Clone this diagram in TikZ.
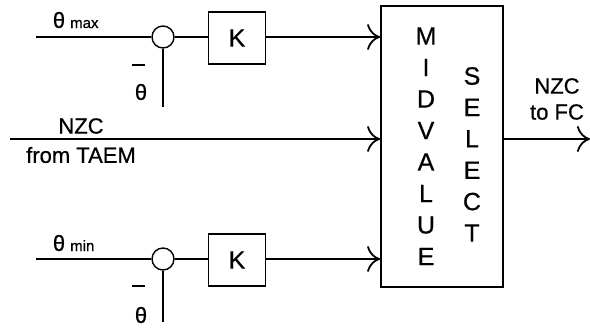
\documentclass[tikz,border=0pt]{standalone}
\usepackage{fontspec}
\setmainfont{Liberation Sans}[FakeBold=0.6]
\usetikzlibrary{arrows.meta}
\begin{document}
\begin{tikzpicture}[x=1pt,y=-1pt,
  ln/.style={line width=1.4pt},
  arr/.style={line width=1.4pt,-{Computer Modern Rightarrow[length=13pt,width=26pt,line width=1.8pt]}},
  kbox/.style={draw,line width=1.5pt,minimum width=57pt,minimum height=52pt,inner sep=0pt,font=\fontsize{25}{25}\selectfont},
  sumc/.style={draw,circle,line width=1.4pt,minimum size=22pt,inner sep=0pt},
  lbl/.style={inner sep=0pt,font=\fontsize{22}{22}\selectfont},
  sml/.style={inner sep=0pt,font=\fontsize{15}{15}\selectfont},
  th/.style={inner sep=0pt,font=\fontsize{22}{22}\selectfont},
  big/.style={inner sep=0pt,font=\fontsize{25}{25}\selectfont}]
\useasboundingbox (0,0) rectangle (590,333);
% main box
\node[draw,line width=1.7pt,minimum width=122pt,minimum height=281pt,inner sep=0pt] (mv) at (442,146.5) {};
% letters
\foreach \c [count=\i from 0] in {M,I,D,V,A,L,U,E}
  \node[big] (m\i) at (426,36+31.5*\i) {\c};
\foreach \c [count=\i from 0] in {S,E,L,E,C,T}
  \node[big] (s\i) at (472,76+31.4*\i) {\c};
% top branch
\coordinate (t0) at (36,37);
\node[sumc] (c1) at (163,37) {};
\node[kbox] (k1) at (237,38) {K};
\coordinate (v1) at (163,107);
\draw[ln] (t0) -- (c1.west);
\draw[ln] (c1.east) -- (k1.west |- c1.east);
\draw[line width=1.8pt] (c1.south) -- (v1);
\draw[arr] (k1.east |- c1.east) -- (c1.east -| mv.west);
\node[th] (thmax) at (59,20) {θ};
\node[sml,anchor=base west] (max) at (70,28) {max};
\draw[line width=1.5pt] (132,65) coordinate (b1a) -- (145,65) coordinate (b1b);
\node[th] (thb1) at (141,92) {θ};
% middle
\coordinate (n0) at (10,139);
\draw[arr] (n0) -- (n0 -| mv.west);
\node[lbl] (nzc1) at (81,126) {NZC};
\node[lbl] (taem) at (81,155) {from TAEM};
% bottom branch
\coordinate (b0) at (36,259);
\node[sumc] (c2) at (163,259) {};
\node[kbox] (k2) at (237,260) {K};
\coordinate (v2) at (163,322);
\draw[ln] (b0) -- (c2.west);
\draw[ln] (c2.east) -- (k2.west |- c2.east);
\draw[line width=1.8pt] (c2.south) -- (v2);
\draw[arr] (k2.east |- c2.east) -- (c2.east -| mv.west);
\node[th] (thmin) at (59,243) {θ};
\node[sml,anchor=base west] (min) at (70,251) {min};
\draw[line width=1.5pt] (132,286) coordinate (b2a) -- (145,286) coordinate (b2b);
\node[th] (thb2) at (141,315) {θ};
% output
\coordinate (o1) at (590,139);
\draw[arr] (mv.east |- o1) -- (o1);
\node[lbl] (nzc2) at (557,86) {NZC};
\node[lbl] (tofc) at (557,112) {to FC};
\end{tikzpicture}
\end{document}
